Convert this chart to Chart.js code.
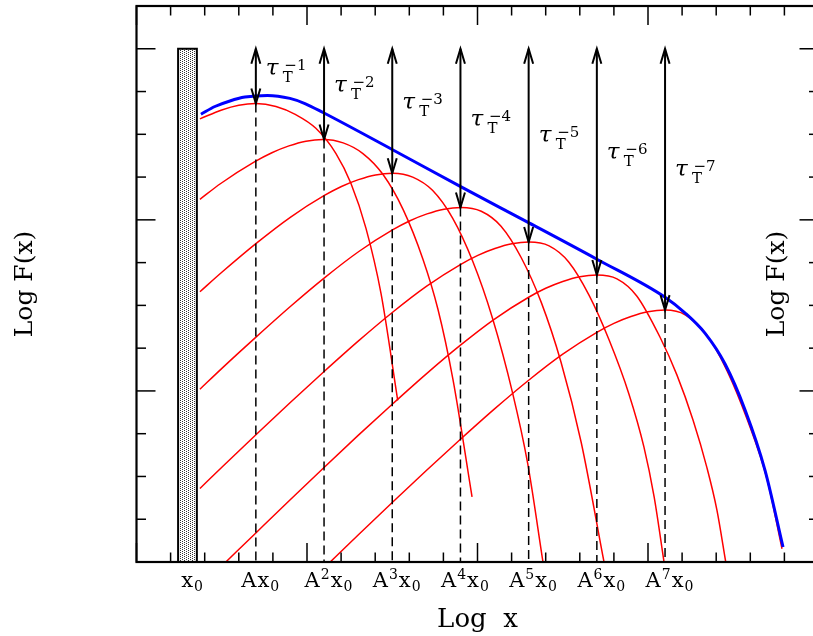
<!DOCTYPE html>
<html>
<head>
<meta charset="utf-8">
<script src="https://cdn.jsdelivr.net/npm/chart.js@4.4.0/dist/chart.umd.min.js"></script>
<style>
  html, body { margin: 0; padding: 0; overflow: hidden; background: #fff; }
  canvas { display: block; }
</style>
</head>
<body>
<canvas id="chart" width="830" height="636"></canvas>
<script>
// x in minor-tick units of Log x, y in minor-tick units of Log F(x)
const tickPos = [1.5, 3.5, 5.5, 7.5, 9.5, 11.5, 13.5, 15.5];
const tickLabels = ['x₀', 'Ax₀', 'A²x₀', 'A³x₀', 'A⁴x₀', 'A⁵x₀', 'A⁶x₀', 'A⁷x₀'];
const peakX = [3.5, 5.5, 7.5, 9.5, 11.5, 13.5, 15.5];
const peakY = [10.72, 9.88, 9.09, 8.29, 7.48, 6.71, 5.89];
const tauPowers = ['1', '2', '3', '4', '5', '6', '7'];
const arrowTop = 12;
const x0Band = [1.22, 1.77];

// total spectrum (blue)
const total = [
  [1.89, 10.47], [2.30, 10.65], [2.74, 10.78], [3.18, 10.87], [3.84, 10.91],
  [4.50, 10.84], [4.94, 10.72], [5.47, 10.51], [7.51, 9.64], [9.52, 8.77],
  [11.51, 7.93], [13.50, 7.08], [15.50, 6.19], [16.09, 5.82], [16.67, 5.35],
  [17.26, 4.63], [17.85, 3.55], [18.43, 2.15], [18.96, 0.35]
];

// successive scattering orders (red)
const order1 = [
  [1.86, 10.36], [2.50, 10.57], [3.00, 10.68], [3.50, 10.72], [4.09, 10.65],
  [4.67, 10.46], [5.26, 10.14], [5.85, 9.55], [6.29, 8.85], [6.73, 7.80],
  [7.17, 6.28], [7.66, 3.78]
];
const order2 = [
  [1.86, 8.48], [2.47, 8.85], [3.47, 9.36], [3.97, 9.57], [4.47, 9.73],
  [4.97, 9.84], [5.47, 9.88], [6.06, 9.80], [6.64, 9.55], [7.23, 9.06],
  [7.82, 8.24], [8.40, 7.08], [8.84, 5.91], [9.28, 4.27], [9.84, 1.52]
];
const order3 = [
  [1.86, 6.32], [2.51, 6.78], [3.51, 7.45], [4.51, 8.06], [5.51, 8.57],
  [6.01, 8.78], [6.51, 8.94], [7.01, 9.05], [7.51, 9.09], [8.10, 9.00],
  [8.68, 8.69], [9.27, 8.04], [9.86, 7.03], [10.44, 5.70], [11.03, 3.95],
  [11.47, 2.31], [11.92, 0]
];
const order4 = [
  [1.86, 4.04], [2.52, 4.54], [3.52, 5.27], [4.52, 5.98], [5.52, 6.65],
  [6.52, 7.26], [7.52, 7.77], [8.02, 7.98], [8.52, 8.14], [9.02, 8.25],
  [9.52, 8.29], [10.11, 8.20], [10.69, 7.85], [11.28, 7.12], [11.87, 6.07],
  [12.45, 4.67], [13.04, 2.80], [13.71, 0]
];
const order5 = [
  [1.86, 1.72], [2.51, 2.22], [3.51, 2.98], [4.51, 3.73], [5.51, 4.46],
  [6.51, 5.17], [7.51, 5.84], [8.51, 6.45], [9.51, 6.96], [10.01, 7.17],
  [10.51, 7.33], [11.01, 7.44], [11.51, 7.48], [12.10, 7.39], [12.68, 7.01],
  [13.27, 6.24], [13.86, 5.19], [14.44, 3.93], [14.88, 2.69], [15.18, 1.52],
  [15.47, 0]
];
const order6 = [
  [2.62, 0], [3.50, 0.68], [4.50, 1.45], [5.50, 2.21], [6.50, 2.96],
  [7.50, 3.69], [8.50, 4.40], [9.50, 5.07], [10.50, 5.68], [11.50, 6.19],
  [12.00, 6.40], [12.50, 6.56], [13.00, 6.67], [13.50, 6.71], [14.09, 6.62],
  [14.67, 6.22], [15.35, 5.26], [15.85, 4.37], [16.32, 3.32], [16.73, 2.20],
  [17.02, 1.22], [17.28, 0]
];
const order7 = [
  [5.68, 0], [6.50, 0.63], [7.50, 1.39], [8.50, 2.14], [9.50, 2.87],
  [10.50, 3.58], [11.50, 4.25], [12.50, 4.86], [13.50, 5.37], [14.00, 5.58],
  [14.50, 5.74], [15.00, 5.85], [15.50, 5.89], [16.09, 5.78], [16.73, 5.30],
  [17.32, 4.47], [17.91, 3.33], [18.49, 1.94], [18.93, 0.31]
];
const orders = [order1, order2, order3, order4, order5, order6, order7];

const FONT = '"DejaVu Serif", "Liberation Serif", serif';
const canvas = document.getElementById('chart');

function stipple() {
  const c = document.createElement('canvas');
  c.width = 4; c.height = 4;
  const g = c.getContext('2d');
  g.fillStyle = '#fff';
  g.fillRect(0, 0, 4, 4);
  g.fillStyle = '#333';
  g.fillRect(0, 0, 1, 1);
  g.fillRect(2, 1, 1, 1);
  g.fillRect(0, 2, 1, 1);
  g.fillRect(2, 3, 1, 1);
  return canvas.getContext('2d').createPattern(c, 'repeat');
}

const datasets = [];
datasets.push({
  data: total, borderColor: '#0000ff', borderWidth: 3,
  pointRadius: 0, cubicInterpolationMode: 'monotone', order: 1
});
peakX.forEach((px, i) => {
  datasets.push({
    data: [[px, peakY[i]], [px, 0]], borderColor: '#000', borderWidth: 1.5,
    borderDash: [9, 5], pointRadius: 0, order: 2
  });
});
orders.forEach(o => {
  datasets.push({
    data: o, borderColor: '#ff0000', borderWidth: 1.5,
    pointRadius: 0, cubicInterpolationMode: 'monotone', order: 3
  });
});
datasets.push({
  data: [[x0Band[0], 0], [x0Band[0], arrowTop], [x0Band[1], arrowTop], [x0Band[1], 0]],
  borderColor: '#000', borderWidth: 2, backgroundColor: stipple(),
  fill: 'origin', pointRadius: 0, tension: 0, order: 4
});

// split "A²x₀" into normal / superscript / subscript pieces
const SUP = '⁰¹²³⁴⁵⁶⁷⁸⁹', SUB = '₀₁₂₃₄₅₆₇₈₉';
function pieces(label) {
  return [...label].map(ch => {
    if (SUP.includes(ch)) return { t: String(SUP.indexOf(ch)), k: 'sup' };
    if (SUB.includes(ch)) return { t: String(SUB.indexOf(ch)), k: 'sub' };
    return { t: ch, k: 'n' };
  });
}

const decor = {
  id: 'decor',
  afterDatasetsDraw(chart) {
    const { ctx, chartArea: { left, right, top, bottom }, scales: { x, y } } = chart;
    const seg = (a, b, c, d) => { ctx.beginPath(); ctx.moveTo(a, b); ctx.lineTo(c, d); ctx.stroke(); };
    ctx.save();
    ctx.strokeStyle = '#000';
    ctx.fillStyle = '#000';

    // ticks, inward
    ctx.lineWidth = 1.5;
    for (let i = x.min; i <= x.max; i++) {
      const p = x.getPixelForValue(i);
      const len = i % 5 === 0 ? 19 : 9.5;
      seg(p, bottom, p, bottom - len);
      seg(p, top, p, top + len);
    }
    for (let j = y.min; j <= y.max; j++) {
      const p = y.getPixelForValue(j);
      const len = j % 4 === 0 ? 19 : 9.5;
      seg(left, p, left + len, p);
      seg(right, p, right - len, p);
    }
    ctx.lineWidth = 2.2;
    ctx.strokeRect(left, top, right - left, bottom - top);

    // tick labels with real sub/superscripts
    ctx.textAlign = 'left';
    ctx.textBaseline = 'alphabetic';
    const big = '21px ' + FONT, small = '14px ' + FONT;
    x.ticks.forEach((t, i) => {
      const parts = pieces(tickLabels[i]);
      let main = 0;
      parts.forEach(p => {
        ctx.font = p.k === 'n' ? big : small;
        p.w = ctx.measureText(p.t).width + 1;
        if (p.k !== 'sub') main += p.w;
      });
      let cx = x.getPixelForValue(t.value) - main / 2;
      const base = bottom + 25;
      parts.forEach(p => {
        ctx.font = p.k === 'n' ? big : small;
        const dy = p.k === 'sup' ? -8 : p.k === 'sub' ? 4 : 0;
        ctx.fillText(p.t, cx, base + dy);
        cx += p.w;
      });
    });

    // double arrows and tau labels
    ctx.lineWidth = 2;
    const yt = y.getPixelForValue(arrowTop);
    peakX.forEach((v, i) => {
      const px = x.getPixelForValue(v);
      const yb = y.getPixelForValue(peakY[i]);
      seg(px, yt, px, yb);
      ctx.beginPath();
      ctx.moveTo(px - 4.5, yt + 15); ctx.lineTo(px, yt); ctx.lineTo(px + 4.5, yt + 15);
      ctx.stroke();
      ctx.beginPath();
      ctx.moveTo(px - 4.5, yb - 15); ctx.lineTo(px, yb); ctx.lineTo(px + 4.5, yb - 15);
      ctx.stroke();

      const base = yt + 26.5 + 16.8 * i;
      ctx.font = 'italic 23px ' + FONT;
      ctx.fillText('τ', px + 10, base);
      ctx.font = '15px ' + FONT;
      ctx.fillText('T', px + 27, base + 7);
      ctx.fillText('−' + tauPowers[i], px + 28.5, base - 5);
    });

    // right-hand axis name, inside the frame
    ctx.translate(777, (top + bottom) / 2);
    ctx.rotate(-Math.PI / 2);
    ctx.font = '25px ' + FONT;
    ctx.textAlign = 'center';
    ctx.textBaseline = 'middle';
    ctx.fillText('Log F(x)', 0, 0);
    ctx.restore();
  }
};

new Chart(canvas, {
  type: 'line',
  data: { datasets },
  options: {
    responsive: false,
    animation: false,
    events: [],
    layout: { padding: { top: 6, right: 11.5, left: 0, bottom: 0 } },
    plugins: { legend: { display: false }, tooltip: { enabled: false } },
    scales: {
      x: {
        type: 'linear', min: 0, max: 20,
        grid: { display: false, drawTicks: false },
        border: { display: false },
        afterBuildTicks: s => { s.ticks = tickPos.map(v => ({ value: v })); },
        afterFit: s => { s.height = 74; },
        ticks: { display: false },
        title: {
          display: true, text: 'Log  x', color: '#000',
          font: { family: FONT, size: 26 }, padding: { top: 0, bottom: 0 }
        }
      },
      y: {
        min: 0, max: 13,
        grid: { display: false, drawTicks: false },
        border: { display: false },
        ticks: { display: false },
        afterFit: s => { s.width = 136.5; },
        title: {
          display: true, text: 'Log F(x)', color: '#000',
          font: { family: FONT, size: 25 }, padding: { top: 10, bottom: 0 }
        }
      }
    }
  },
  plugins: [decor]
});
</script>
</body>
</html>
